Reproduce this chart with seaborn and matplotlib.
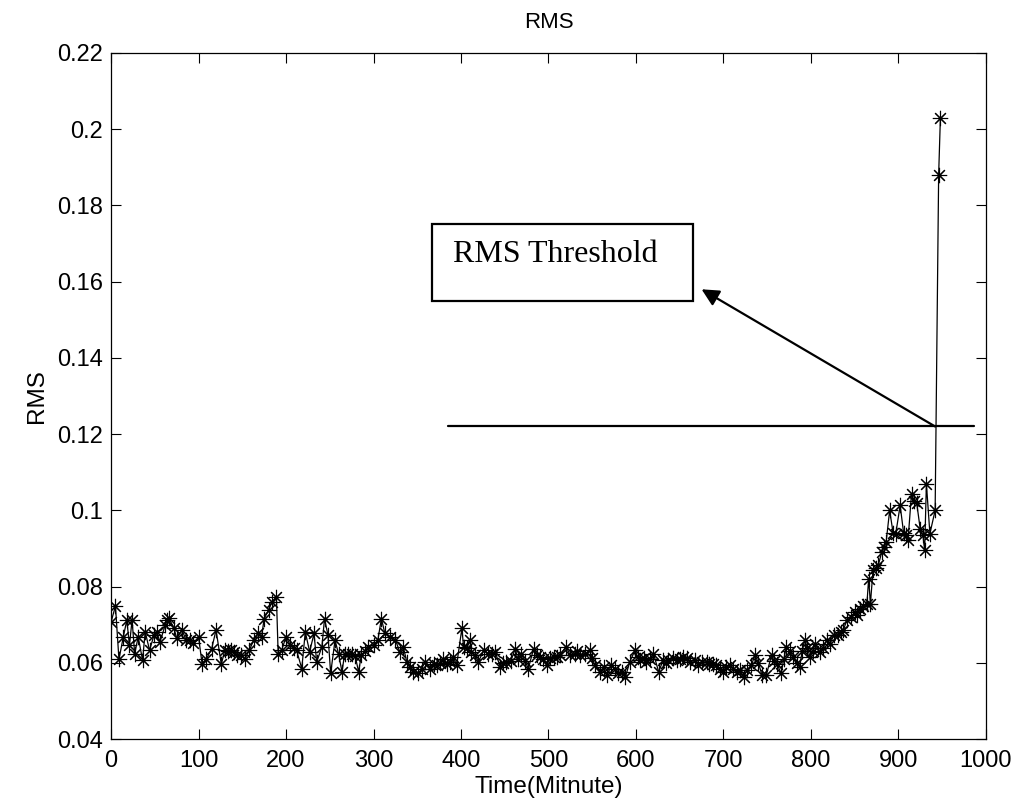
import matplotlib
matplotlib.use("Agg")
import matplotlib.pyplot as plt
import seaborn as sns
import pandas as pd
from matplotlib.patches import Rectangle

# ---- data ----
time_min = [0, 5, 9, 14, 18, 21, 24, 27, 31, 36, 39, 44, 49, 52, 56, 62, 64, 66, 72, 75,
            81, 86, 90, 94, 100, 104, 109, 115, 120, 126, 130, 134, 137, 141, 144, 149, 153, 158, 163, 168,
            172, 175, 180, 184, 189, 191, 195, 200, 205, 209, 212, 218, 222, 227, 232, 235, 241, 244, 248, 251,
            256, 260, 264, 267, 271, 275, 279, 283, 286, 290, 294, 300, 305, 309, 313, 319, 325, 330, 334, 338,
            342, 345, 351, 355, 359, 365, 369, 372, 376, 380, 384, 388, 391, 395, 401, 403, 407, 410, 412, 416,
            420, 426, 431, 435, 439, 445, 448, 452, 457, 462, 465, 469, 473, 477, 483, 487, 490, 494, 498, 502,
            506, 510, 513, 520, 525, 530, 533, 536, 542, 547, 550, 553, 559, 563, 567, 572, 576, 580, 584, 588,
            593, 599, 602, 605, 609, 612, 616, 620, 626, 631, 634, 637, 642, 647, 650, 654, 658, 662, 667, 671,
            676, 681, 684, 688, 692, 696, 700, 703, 707, 711, 715, 719, 723, 727, 732, 736, 740, 744, 749, 755,
            758, 761, 766, 769, 772, 776, 780, 784, 787, 790, 793, 796, 799, 802, 805, 810, 814, 818, 822, 826,
            831, 834, 837, 841, 846, 850, 853, 856, 860, 864, 866, 868, 871, 874, 877, 881, 884, 886, 890, 894,
            897, 902, 906, 909, 911, 915, 918, 921, 925, 928, 930, 932, 936, 942, 946, 948]
rms = [0.0707, 0.0749, 0.0609, 0.0668, 0.0712, 0.0646, 0.0712, 0.0624, 0.0668, 0.0607,
       0.0681, 0.0633, 0.0672, 0.0681, 0.0655, 0.0700, 0.0712, 0.0718, 0.0690, 0.0664,
       0.0686, 0.0659, 0.0660, 0.0651, 0.0668, 0.0598, 0.0610, 0.0637, 0.0686, 0.0596,
       0.0633, 0.0630, 0.0633, 0.0628, 0.0620, 0.0620, 0.0610, 0.0633, 0.0659, 0.0677,
       0.0668, 0.0716, 0.0738, 0.0760, 0.0773, 0.0624, 0.0633, 0.0668, 0.0646, 0.0640,
       0.0633, 0.0585, 0.0681, 0.0629, 0.0677, 0.0602, 0.0642, 0.0716, 0.0672, 0.0572,
       0.0659, 0.0624, 0.0576, 0.0624, 0.0622, 0.0624, 0.0618, 0.0576, 0.0620, 0.0630,
       0.0642, 0.0646, 0.0660, 0.0716, 0.0677, 0.0668, 0.0660, 0.0629, 0.0642, 0.0603,
       0.0590, 0.0576, 0.0572, 0.0585, 0.0603, 0.0585, 0.0598, 0.0594, 0.0600, 0.0611,
       0.0598, 0.0603, 0.0616, 0.0594, 0.0690, 0.0642, 0.0640, 0.0659, 0.0629, 0.0620,
       0.0603, 0.0633, 0.0624, 0.0622, 0.0629, 0.0589, 0.0600, 0.0603, 0.0605, 0.0637,
       0.0610, 0.0624, 0.0605, 0.0585, 0.0637, 0.0620, 0.0616, 0.0610, 0.0594, 0.0612,
       0.0616, 0.0615, 0.0620, 0.0642, 0.0620, 0.0624, 0.0630, 0.0620, 0.0624, 0.0633,
       0.0612, 0.0594, 0.0576, 0.0590, 0.0567, 0.0594, 0.0585, 0.0572, 0.0575, 0.0563,
       0.0603, 0.0633, 0.0615, 0.0607, 0.0612, 0.0603, 0.0610, 0.0624, 0.0576, 0.0607,
       0.0600, 0.0607, 0.0612, 0.0607, 0.0610, 0.0616, 0.0612, 0.0603, 0.0607, 0.0594,
       0.0602, 0.0602, 0.0598, 0.0598, 0.0595, 0.0585, 0.0576, 0.0590, 0.0594, 0.0585,
       0.0576, 0.0580, 0.0563, 0.0580, 0.0594, 0.0620, 0.0600, 0.0568, 0.0568, 0.0620,
       0.0605, 0.0598, 0.0572, 0.0610, 0.0642, 0.0630, 0.0615, 0.0600, 0.0589, 0.0630,
       0.0659, 0.0640, 0.0615, 0.0630, 0.0650, 0.0629, 0.0640, 0.0659, 0.0650, 0.0672,
       0.0672, 0.0680, 0.0685, 0.0712, 0.0720, 0.0734, 0.0725, 0.0742, 0.0750, 0.0755,
       0.0821, 0.0755, 0.0843, 0.0850, 0.0856, 0.0891, 0.0905, 0.0917, 0.1000, 0.0940,
       0.0939, 0.1013, 0.0940, 0.0935, 0.0922, 0.1044, 0.1025, 0.1018, 0.0950, 0.0935,
       0.0895, 0.1070, 0.0939, 0.1000, 0.1880, 0.2030]

threshold_value = 0.122
threshold_span = [385, 986]
arrow_tail = [942, 0.122]
arrow_head = [675, 0.158]
box_label = "RMS Threshold"

x_ticks = [0, 100, 200, 300, 400, 500, 600, 700, 800, 900, 1000]
y_ticks = [0.04, 0.06, 0.08, 0.1, 0.12, 0.14, 0.16, 0.18, 0.2, 0.22]
y_tick_labels = ["0.04", "0.06", "0.08", "0.1", "0.12", "0.14", "0.16", "0.18", "0.2", "0.22"]

df = pd.DataFrame({"Time": time_min, "RMS": rms})

sns.set_style("ticks")
plt.rcParams["font.family"] = ["Liberation Sans", "DejaVu Sans"]
plt.rcParams["text.color"] = "black"
plt.rcParams["axes.labelcolor"] = "black"

fig = plt.figure(figsize=(10.19, 8.09), dpi=100)
ax = fig.add_axes([0.109, 0.0865, 0.8585, 0.848])

sns.lineplot(data=df, x="Time", y="RMS", ax=ax, sort=False, estimator=None,
             color="black", lw=0.9, marker=(8, 2, 0), markersize=11,
             markeredgewidth=0.8, markeredgecolor="black")

# threshold line
ax.plot(threshold_span, [threshold_value, threshold_value], color="black", lw=1.6)

# arrow
ax.annotate("", xy=tuple(arrow_head), xytext=tuple(arrow_tail),
            arrowprops=dict(arrowstyle="-|>", color="black", lw=1.6,
                            mutation_scale=26, shrinkA=0, shrinkB=0))

# label box
ax.add_patch(Rectangle((366.5, 0.1549), 298.5, 0.0201, fill=False,
                       edgecolor="black", lw=1.6))
ax.text(391, 0.1672, box_label, ha="left", va="center", fontsize=23,
        color="black", family=["Liberation Serif", "DejaVu Serif"])

ax.set_xlim(0, 1000)
ax.set_ylim(0.04, 0.22)
ax.set_xticks(x_ticks)
ax.set_xticklabels([str(t) for t in x_ticks])
ax.set_yticks(y_ticks)
ax.set_yticklabels(y_tick_labels)
ax.tick_params(direction="in", length=7, width=0.8, top=True, right=True,
               labelsize=17, colors="black")
ax.tick_params(axis="x", pad=8)
ax.tick_params(axis="y", pad=6)
for s in ax.spines.values():
    s.set_visible(True)
    s.set_linewidth(0.9)
    s.set_color("black")

ax.set_title("RMS", fontsize=16, pad=18, color="black")
ax.set_xlabel("Time(Mitnute)", fontsize=17.5, labelpad=3, color="black")
ax.set_ylabel("RMS", fontsize=17.5, labelpad=6, color="black")

fig.savefig("out.png", dpi=100, facecolor="white")
